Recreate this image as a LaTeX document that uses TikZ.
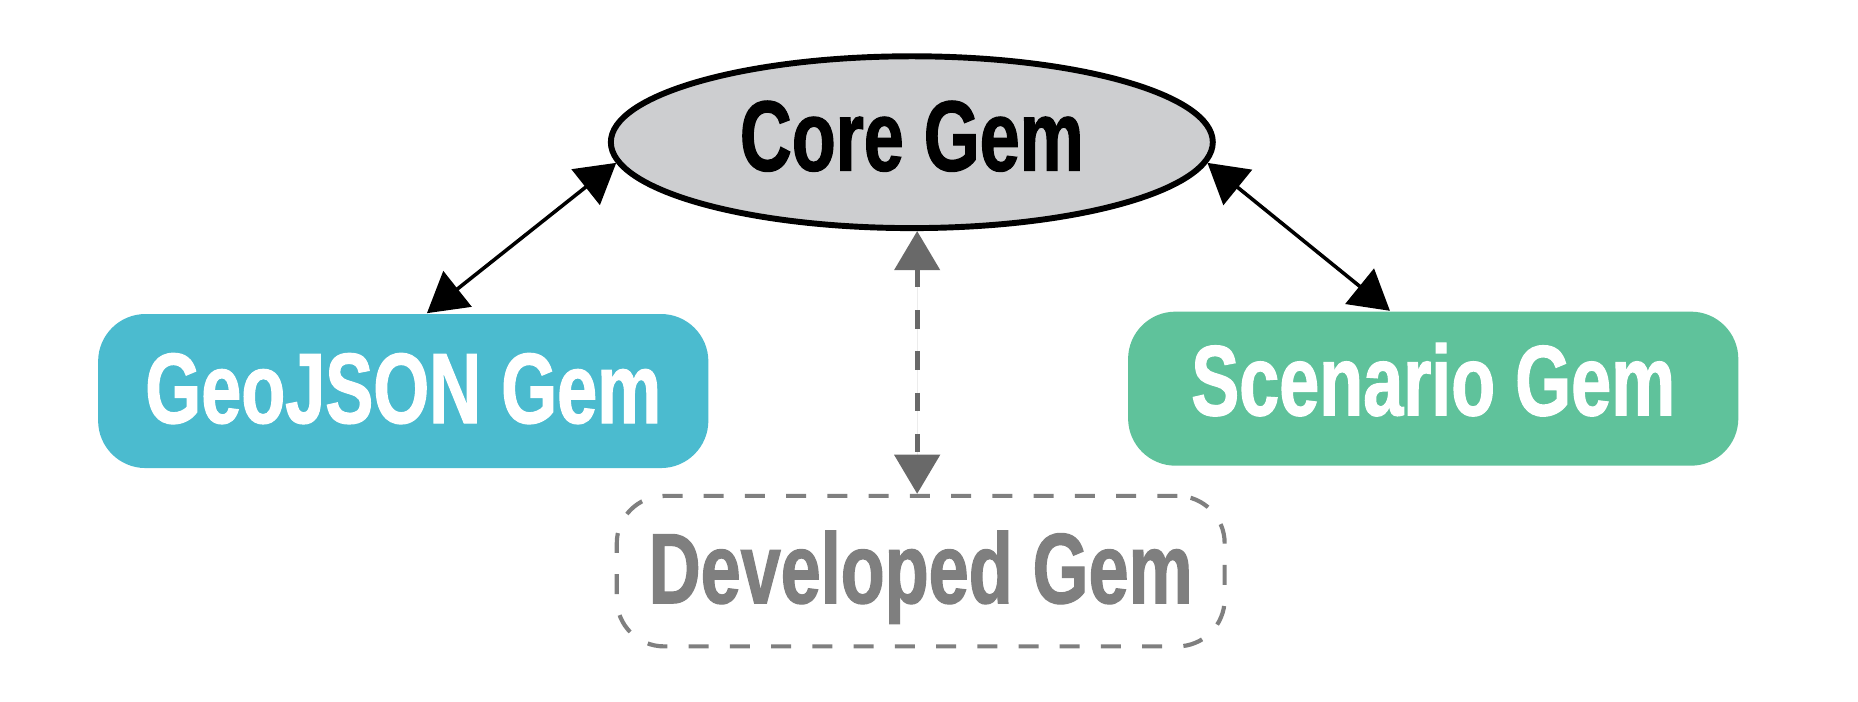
\documentclass[tikz,border=0pt]{standalone}
\usepackage{fontspec}
\setmainfont{Liberation Sans}[FakeStretch=0.72, BoldFeatures={FakeBold=1.2}]
\usepackage{xcolor}
\usepackage{tikz}
\usetikzlibrary{shapes.geometric, arrows.meta}
\definecolor{colorCore}{HTML}{CDCED0}
\definecolor{colorGeo}{HTML}{4BBBCF}
\definecolor{colorScen}{HTML}{5FC29B}
\definecolor{colorDev}{HTML}{7F7F7F}
\definecolor{colorLink}{HTML}{696969}

\begin{document}
\begin{tikzpicture}[
        gemtext/.style={font=\fontsize{24}{28}\selectfont\bfseries, text height=0.58cm, text depth=0.04cm, inner sep=0pt},
        gembox/.style={gemtext, rectangle, rounded corners=0.4cm, minimum width=5.15cm, minimum height=1.3cm, text=white},
        link/.style={line width=0.03cm, {Triangle[length=0.33cm,width=0.38cm]}-{Triangle[length=0.33cm,width=0.38cm]}}
    ]
        \useasboundingbox (0,0) rectangle (15.68,-5.92);
        \node[gemtext, text depth=0.1cm, ellipse, draw=black, line width=0.05cm, fill=colorCore, minimum width=5.08cm, minimum height=1.45cm] (core) at (7.695,-1.20) {Core Gem};
        \node[gembox, fill=colorGeo] (geo) at (3.403,-3.30) {GeoJSON Gem};
        \node[gembox, text depth=0.13cm, fill=colorScen] (scen) at (12.095,-3.28) {Scenario Gem};
        \node[gemtext, rectangle, rounded corners=0.4cm, minimum width=5.13cm, minimum height=1.27cm, draw=colorDev, line width=0.035cm, dash pattern=on 4.8pt off 5.1pt, text=colorDev] (dev) at (7.77,-4.82) {Developed Gem};
        \draw[link] ([xshift=0.2cm]geo.north) -- (core.184.6);
        \draw[link] (core.-4.6) -- ([xshift=-0.365cm]scen.north);
        \draw[link, line width=0.04cm, draw=colorLink, fill=colorLink, dash pattern=on 4.4pt off 5.5pt] ([xshift=0.045cm]core.south) -- ([xshift=0.045cm]core.south |- dev.north);
    \end{tikzpicture}
\end{document}
